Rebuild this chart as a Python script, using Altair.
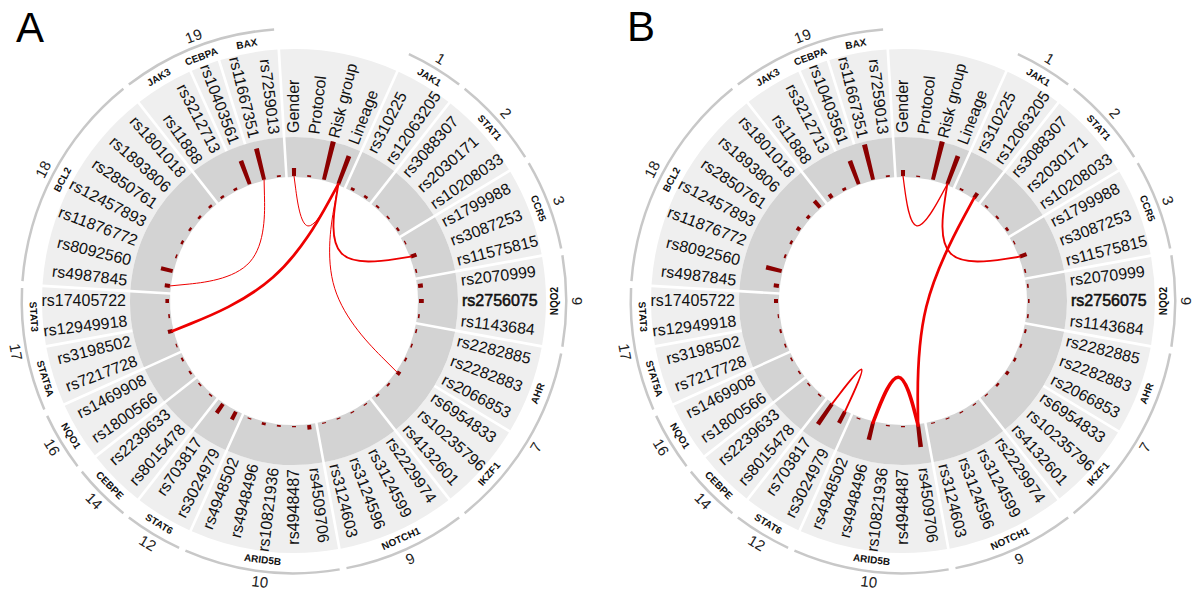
import math
import altair as alt
import pandas as pd

# ---------------- data ----------------
clinical = ["Gender", "Protocol", "Risk group", "Lineage"]
genes = ["JAK1", "STAT1", "CCR5", "NQO2", "AHR", "IKZF1", "NOTCH1", "ARID5B", "STAT6",
         "CEBPE", "NQO1", "STAT5A", "STAT3", "BCL2", "JAK3", "CEBPA", "BAX"]
gene_chrom = ["1", "2", "3", "6", "7", "7", "9", "10", "12", "14", "16", "17", "17",
              "18", "19", "19", "19"]
gene_snps = [
    ["rs310225", "rs12063205"],
    ["rs3088307", "rs2030171", "rs10208033"],
    ["rs1799988", "rs3087253", "rs11575815"],
    ["rs2070999", "rs2756075", "rs1143684"],
    ["rs2282885", "rs2282883", "rs2066853"],
    ["rs6954833", "rs10235796", "rs4132601"],
    ["rs2229974", "rs3124599", "rs3124596", "rs3124603"],
    ["rs4509706", "rs4948487", "rs10821936", "rs4948496", "rs4948502"],
    ["rs3024979", "rs703817"],
    ["rs8015478", "rs2239633"],
    ["rs1800566", "rs1469908"],
    ["rs7217728", "rs3198502"],
    ["rs12949918", "rs17405722"],
    ["rs4987845", "rs8092560", "rs11876772", "rs12457893", "rs2850761", "rs1893806", "rs1801018"],
    ["rs11888", "rs3212713"],
    ["rs10403561"],
    ["rs11667351", "rs7259013"],
]
highlighted = ["rs2756075"]

# association score per item (clockwise from Gender)
score_A = [2.0, 0.4, 9.8, 7.5, 0.7, 0.7, 0.5, 0.4, 0.6, 0.3, 1.5, 0.4, 1.2, 1.2,
           0.4, 0.4, 0.4, 0.5, 1.0, 0.5, 0.5, 0.3, 0.3, 0.3, 0.3, 1.1, 0.3, 0.4,
           0.7, 0.3, 2.2, 2.8, 0.4, 0.4, 0.5, 0.5, 0.3, 1.2, 0.4, 0.9, 1.3, 3.0,
           0.4, 0.6, 0.6, 0.6, 0.6, 0.6, 0.6, 6.2, 8.0, 0.4]
score_B = [1.5, 0.3, 9.8, 7.5, 0.5, 1.5, 0.5, 0.5, 0.7, 0.3, 1.8, 0.4, 0.4, 0.4,
           0.4, 0.5, 0.5, 0.6, 0.8, 0.6, 0.3, 0.3, 0.3, 0.3, 0.3, 5.5, 0.3, 0.3,
           4.5, 0.3, 3.2, 6.2, 0.4, 0.4, 0.4, 0.4, 0.4, 0.5, 0.3, 1.0, 1.3, 4.0,
           0.5, 0.6, 1.0, 0.8, 2.2, 1.2, 0.7, 6.2, 9.0, 0.4]

link_A_from = ["Lineage", "Lineage", "Lineage", "Gender", "rs11667351"]
link_A_to = ["rs3198502", "rs3087253", "rs6954833", "Lineage", "rs4987845"]
link_A_weight = [3.0, 2.0, 1.0, 1.0, 1.0]

link_B_from = ["Gender", "Lineage", "rs12063205", "rs4948496", "rs703817"]
link_B_to = ["Lineage", "rs3087253", "rs4509706", "rs4509706", "rs3024979"]
link_B_weight = [1.3, 2.0, 3.0, 4.0, 2.0]

panel_names = ["A", "B"]

# ---------------- layout ----------------
W, H = 1184, 583
CENTERS = {"A": (286, 293), "B": (895, 293)}
LETTER_POS = {"A": (8, 34), "B": (619, 33)}
R_IN, R_DARK, R_LIGHT = 124, 164, 252
R_LINK = 125
FONT = "Liberation Sans"

items = clinical + [s for snps in gene_snps for s in snps]
n = len(items)
step = 360.0 / n
idx = {name: i for i, name in enumerate(items)}
item_gene = ["clinical"] * len(clinical) + [g for g, snps in zip(genes, gene_snps) for _ in snps]
item_chrom = ["clinical"] * len(clinical) + [c for c, snps in zip(gene_chrom, gene_snps) for _ in snps]


def runs(keys):
    out, start = [], 0
    for i in range(1, len(keys) + 1):
        if i == len(keys) or keys[i] != keys[start]:
            out.append((keys[start], start, i - 1))
            start = i
    return out


def tangential(t):
    return t if (t < 89.5 or t >= 270) else t - 180


bars, labels, dark, light, chroms, gene_lab, chrom_lab, links, letters = ([] for _ in range(9))
panels = [("A", score_A, link_A_from, link_A_to, link_A_weight),
          ("B", score_B, link_B_from, link_B_to, link_B_weight)]
for p, scores, lf, lt, lw in panels:
    cx, cy = CENTERS[p]
    lx, ly = LETTER_POS[p]
    letters.append(dict(cx=lx, cy=ly, label=p))
    for i, (name, sc) in enumerate(zip(items, scores)):
        t = i * step
        bars.append(dict(cx=cx, cy=cy, t0=t - 0.9, t1=t + 0.9, score=sc))
        right = t < 180
        labels.append(dict(cx=cx, cy=cy, t=t, rot=(t - 90) if right else (t - 270),
                           label=name, side="R" if right else "L",
                           hl=name in highlighted))
    for key, a, b in runs(item_chrom):
        row = dict(cx=cx, cy=cy, t0=(a - 0.5) * step, t1=(b + 0.5) * step)
        dark.append(row)
        if key != "clinical":
            chroms.append(row)
            m = (a + b) / 2 * step
            chrom_lab.append(dict(cx=cx, cy=cy, t=m, rot=tangential(m), label=key))
    for key, a, b in runs(item_gene):
        light.append(dict(cx=cx, cy=cy, t0=(a - 0.5) * step, t1=(b + 0.5) * step))
        if key != "clinical":
            m = (a + b) / 2 * step
            gene_lab.append(dict(cx=cx, cy=cy, t=m, rot=tangential(m), label=key))
    for k, (f, g, w) in enumerate(zip(lf, lt, lw)):
        ta, tb = idx[f] * step, idx[g] * step
        d = (tb - ta) % 360
        if d <= 180:
            sep, mid = d, ta + d / 2
        else:
            sep = 360 - d
            mid = tb + sep / 2
        rc = 60 * (1 - sep / 180)
        for s, (r, th) in enumerate([(R_LINK, ta), (rc, mid), (R_LINK, tb)]):
            rad = math.radians(th)
            links.append(dict(px=cx + r * math.sin(rad), py=cy - r * math.cos(rad),
                              lid=f"{p}{k}", seq=s, w=w))

theta_scale = alt.Scale(domain=[0, 360], range=[0, 2 * math.pi])
x_scale = alt.Scale(domain=[0, W], range=[0, W])
y_scale = alt.Scale(domain=[0, H], range=[0, H])


def pos(field_x="cx", field_y="cy"):
    return dict(x=alt.X(f"{field_x}:Q", scale=x_scale, axis=None),
                y=alt.Y(f"{field_y}:Q", scale=y_scale, axis=None))


def ring(df, r0, r1, color, pad):
    return alt.Chart(pd.DataFrame(df)).mark_arc(
        innerRadius=r0, outerRadius=r1, padAngle=pad, color=color
    ).encode(
        theta=alt.Theta("t0:Q", scale=theta_scale, stack=None),
        theta2="t1:Q",
        **pos(),
    )


light_layer = ring(light, R_DARK, R_LIGHT, "#efefef", 0.009)
dark_layer = ring(dark, R_IN, R_DARK, "#d3d3d3", 0.0125)
chrom_layer = ring(chroms, 271, 273.5, "#c8c8c8", 0.018)

bar_layer = alt.Chart(pd.DataFrame(bars)).mark_arc(color="#8b0000").encode(
    theta=alt.Theta("t0:Q", scale=theta_scale, stack=None),
    theta2="t1:Q",
    radius=alt.Radius("score:Q", scale=alt.Scale(type="linear", domain=[0, 10], range=[125, 165])),
    radius2=alt.value(125),
    **pos(),
)

link_layer = alt.Chart(pd.DataFrame(links)).mark_line(
    interpolate="basis", color="#ee0000", strokeCap="round"
).encode(
    detail="lid:N",
    order="seq:Q",
    strokeWidth=alt.StrokeWidth("w:Q", scale=alt.Scale(domain=[1, 4], range=[1, 3.6]), legend=None),
    **pos("px", "py"),
)

label_df = pd.DataFrame(labels)


def text_layer(df, radius, size, align, weight="normal", color="#111111", outline=0.0):
    kw = dict(radius=radius, fontSize=size, align=align, baseline="middle",
              font=FONT, fontWeight=weight, color=color)
    if outline > 0:
        kw.update(stroke=color, strokeWidth=outline)
    return alt.Chart(df).mark_text(**kw).encode(
        theta=alt.Theta("t:Q", scale=theta_scale),
        angle=alt.Angle("rot:Q", scale=None),
        text="label:N",
        **pos(),
    )


normal = label_df[~label_df.hl]
lab_right = text_layer(normal[normal.side == "R"], 168, 16, "left")
lab_left = text_layer(normal[normal.side == "L"], 168, 16, "right")
lab_hl = text_layer(label_df[label_df.hl], 168, 16, "left", outline=0.55)
gene_layer = text_layer(pd.DataFrame(gene_lab), 261, 10, "center", weight="bold")
chromnum_layer = text_layer(pd.DataFrame(chrom_lab), 283, 15, "center", color="#222222")

letter_layer = alt.Chart(pd.DataFrame(letters)).mark_text(
    fontSize=42, align="left", baseline="alphabetic", font=FONT, color="#000000"
).encode(text="label:N", **pos())

chart = alt.layer(
    light_layer, dark_layer, chrom_layer, bar_layer, link_layer,
    lab_right, lab_left, lab_hl, gene_layer, chromnum_layer, letter_layer,
).properties(
    width=W, height=H, padding=0, autosize=alt.AutoSizeParams(type="none")
).configure_view(stroke=None)

chart.save("out.html", embed_options={"renderer": "svg", "actions": False})
